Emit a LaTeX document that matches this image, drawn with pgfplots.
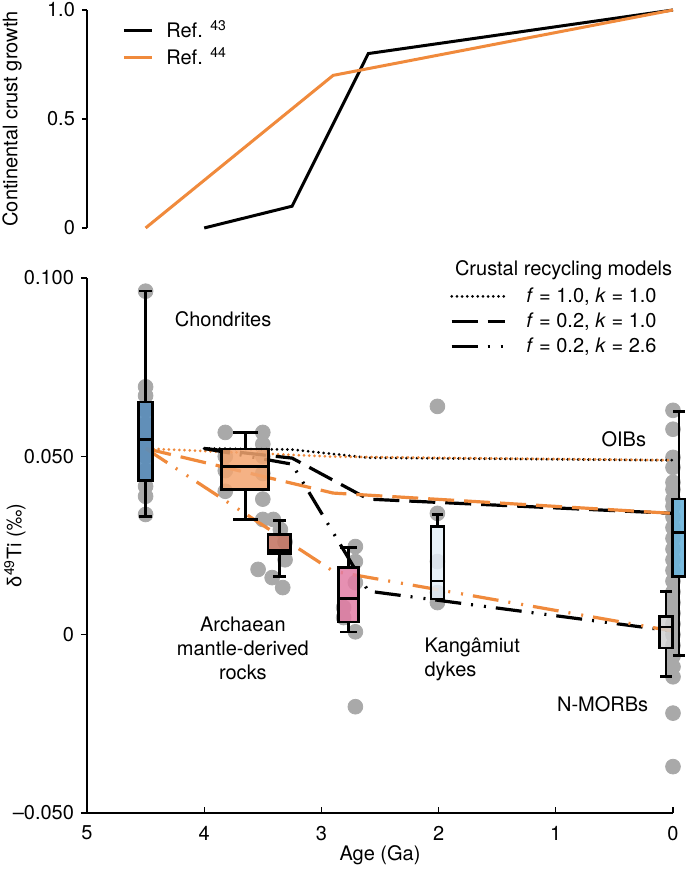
\documentclass[border=0pt]{standalone}
\usepackage{fontspec}
\setmainfont{TeX Gyre Heros}
\newfontfamily\libsans{Liberation Sans}
\usepackage{pgfplots}
\pgfplotsset{compat=1.18}

\definecolor{corange}{HTML}{F08A3C}
\definecolor{cgrey}{HTML}{A9A9A9}
\definecolor{cchon}{HTML}{5A8DBA}
\definecolor{carch}{HTML}{F3A570}
\definecolor{cbrown}{HTML}{C47866}
\definecolor{cpink}{HTML}{E27CA4}
\definecolor{ckang}{HTML}{E4EEF7}
\definecolor{cmorb}{HTML}{D0D0D0}
\definecolor{coib}{HTML}{6BB4DA}

\tikzset{boxl/.style={draw=black, line width=1.3pt, line join=miter}}

\begin{document}
\begin{tikzpicture}[font=\fontsize{10}{12}\selectfont]
\useasboundingbox (-43.5pt,-28.5pt) rectangle (299pt,406.5pt);

% ---------------- top panel ----------------
\begin{axis}[
 at={(0pt,292.5pt)}, anchor=south west,
 scale only axis, width=293pt, height=109pt,
 xmin=0, xmax=5, x dir=reverse, ymin=0, ymax=1,
 axis x line=none, axis y line=left, axis line style={-, line width=0.6pt},
 ytick={0,0.5,1}, yticklabels={0,0.5,1.0},
 tick align=outside, major tick length=2.5pt, tick style={line width=0.6pt, black},
 tick label style={font=\fontsize{10}{12}\selectfont},
 ylabel={Continental crust growth},
 ylabel style={at={(axis description cs:-0.128,0.5)}, anchor=center},
 clip=false,
 legend image code/.code={\draw[#1] (0pt,0pt) -- (14pt,0pt);},
 legend style={draw=none, fill=none, at={(axis description cs:0.0597,0.97)}, anchor=north west,
   inner sep=0pt, row sep=0pt, nodes={inner sep=0pt, minimum height=13.5pt, anchor=west},
   /tikz/every odd column/.append style={column sep=6.5pt}},
 legend cell align=left,
]
\addplot[black, line width=1.5pt] coordinates {(4.0,0) (3.25,0.1) (2.6,0.8) (0,1.0)};
\addlegendentry{Ref. \textsuperscript{43}}
\addplot[corange, line width=1.5pt] coordinates {(4.5,0) (2.9,0.7) (0,1.0)};
\addlegendentry{Ref. \textsuperscript{44}}
\end{axis}

% ---------------- bottom panel ----------------
\begin{axis}[
 at={(0pt,0pt)}, anchor=south west,
 scale only axis, width=293pt, height=267.5pt,
 xmin=0, xmax=5, x dir=reverse, ymin=-0.05, ymax=0.1,
 unbounded coords=jump,
 axis x line=bottom, axis y line=left, axis line style={-, line width=0.6pt},
 xtick={0,1,2,3,4,5}, xticklabels={0,1,2,3,4,5},
 ytick={-0.05,0,0.05,0.1}, yticklabels={\textendash0.050,0,0.050,0.100},
 tick align=outside, major tick length=3pt, tick style={line width=0.6pt, black},
 x tick style={yshift=3pt},
 tick label style={font=\fontsize{10}{12}\selectfont},
 xlabel={Age (Ga)},
 xlabel style={at={(axis description cs:0.5,-0.0785)}, anchor=center},
 ylabel={{\libsans δ}\textsuperscript{49}Ti (‰)},
 ylabel style={at={(axis description cs:-0.123,0.5)}, anchor=center},
 clip=false, clip marker paths=true,
 legend image code/.code={\draw[#1] (0pt,0pt) -- (26.5pt,0pt);},
 legend style={draw=none, fill=none, at={(axis description cs:0.619,0.9897)}, anchor=north west,
   inner sep=0pt, row sep=0pt, nodes={inner sep=0pt, minimum height=12.5pt, anchor=west},
   /tikz/every odd column/.append style={column sep=10pt}},
 legend cell align=left,
]
\addlegendimage{black, line width=1.5pt, line cap=round, dash pattern=on 0pt off 2.6pt}
\addlegendentry{\textit{f} = 1.0, \textit{k} = 1.0}
\addlegendimage{black, line width=1.6pt, dash pattern=on 13pt off 5pt}
\addlegendentry{\textit{f} = 0.2, \textit{k} = 1.0}
\addlegendimage{black, line width=1.6pt, dash pattern=on 13pt off 5pt on 1pt off 5.5pt on 1pt off 5pt}
\addlegendentry{\textit{f} = 0.2, \textit{k} = 2.6}

% grey data points
\addplot[forget plot, only marks, mark=*, mark size=3.7pt, color=cgrey] coordinates {
 (4.5,0.0963) (4.5,0.0695) (4.5,0.0670) (4.5,0.0630) (4.5,0.0590) (4.5,0.0560)
 (4.5,0.0530) (4.5,0.0500) (4.5,0.0460) (4.5,0.0440) (4.5,0.0416) (4.5,0.0388) (4.5,0.0337)
 (3.82,0.0567) (3.82,0.0500) (3.82,0.0460) (3.82,0.0402)
 (3.50,0.0567) (3.50,0.0534) (3.50,0.0500) (3.50,0.0452) (3.50,0.0380)
 (3.50,0.0323) (3.41,0.0323) (3.35,0.0295) (3.31,0.0260) (3.31,0.0210)
 (3.54,0.0183) (3.42,0.0160) (3.33,0.0132)
 (2.71,0.0247) (2.71,0.0205) (2.71,0.0146) (2.81,0.0076) (2.81,0.0048) (2.71,0.0008) (2.71,-0.0202)
 (2.01,0.0640) (2.01,0.0340) (2.01,0.0205) (2.01,0.0118) (2.01,0.0090)
 (0,0.0629) (0,0.0576) (0,0.0497) (0,0.0469) (0,0.0427) (0,0.0407) (0,0.0380) (0,0.0360)
 (0,0.0330) (0,0.0300) (0,0.0270) (0,0.0240) (0,0.0210) (0,0.0180) (0,0.0150)
 (0,0.0120) (0,0.0090) (0,0.0060) (0,0.0030) (0,0.0000) (0,-0.0030) (0,-0.0060)
 (0,-0.0090) (0,-0.0118) (0,-0.0220) (0,-0.0370)
};

% crustal recycling model lines
\addplot[forget plot, black, line width=1.5pt, line cap=round, dash pattern=on 0pt off 2.6pt]
 coordinates {(4.0,0.0522) (3.25,0.0519) (2.6,0.0496) (0,0.0489)};
\addplot[forget plot, corange, line width=1.5pt, line cap=round, dash pattern=on 0pt off 2.6pt, dash phase=1.3pt]
 coordinates {(4.5,0.0522) (2.9,0.0499) (0,0.0489)};
\addplot[forget plot, black, line width=1.6pt, dash pattern=on 13pt off 5pt]
 coordinates {(4.0,0.0522) (3.25,0.0495) (2.6,0.0380) (0,0.0340)};
\addplot[forget plot, corange, line width=1.6pt, dash pattern=on 13pt off 5pt]
 coordinates {(4.5,0.0522) (2.9,0.0397) (0,0.0340)};
\addplot[forget plot, black, line width=1.6pt, dash pattern=on 13pt off 5pt on 1pt off 5.5pt on 1pt off 5pt]
 coordinates {(4.0,0.0522) (3.25,0.0478) (2.6,0.0122) (0,0.0010)};
\addplot[forget plot, corange, line width=1.6pt, dash pattern=on 13pt off 5pt on 1pt off 5.5pt on 1pt off 5pt]
 coordinates {(4.5,0.0522) (2.9,0.0178) (0,0.0010)};

% ---- box plots: whiskers + caps, box, median ----
% Chondrites (4.5 Ga)
\addplot[forget plot, boxl] coordinates {(4.5,0.0652) (4.5,0.0963) (4.5,nan) (4.445,0.0963) (4.555,0.0963) (4.5,nan)
 (4.5,0.0433) (4.5,0.0331) (4.5,nan) (4.445,0.0331) (4.555,0.0331)};
\addplot[forget plot, boxl, fill=cchon, fill opacity=0.9] coordinates {(4.44,0.0433) (4.56,0.0433) (4.56,0.0652) (4.44,0.0652)} --cycle;
\addplot[forget plot, boxl] coordinates {(4.44,0.0548) (4.56,0.0548)};
% Archaean mantle-derived rocks (3.65 Ga)
\addplot[forget plot, boxl] coordinates {(3.65,0.0520) (3.65,0.0567) (3.65,nan) (3.545,0.0567) (3.755,0.0567) (3.65,nan)
 (3.65,0.0407) (3.65,0.0323) (3.65,nan) (3.545,0.0323) (3.755,0.0323)};
\addplot[forget plot, boxl, fill=carch, fill opacity=0.85] coordinates {(3.45,0.0407) (3.85,0.0407) (3.85,0.0520) (3.45,0.0520)} --cycle;
\addplot[forget plot, boxl] coordinates {(3.45,0.0472) (3.85,0.0472)};
% Archaean (3.36 Ga)
\addplot[forget plot, boxl] coordinates {(3.36,0.0281) (3.36,0.0320) (3.36,nan) (3.305,0.0320) (3.415,0.0320) (3.36,nan)
 (3.36,0.0228) (3.36,0.0163) (3.36,nan) (3.305,0.0163) (3.415,0.0163)};
\addplot[forget plot, boxl, fill=cbrown, fill opacity=0.9] coordinates {(3.265,0.0228) (3.455,0.0228) (3.455,0.0281) (3.265,0.0281)} --cycle;
\addplot[forget plot, boxl] coordinates {(3.265,0.0236) (3.455,0.0236)};
% Archaean (2.77 Ga)
\addplot[forget plot, boxl] coordinates {(2.77,0.0188) (2.77,0.0244) (2.77,nan) (2.70,0.0244) (2.84,0.0244) (2.77,nan)
 (2.77,0.0036) (2.77,0.0008) (2.77,nan) (2.70,0.0008) (2.84,0.0008)};
\addplot[forget plot, boxl, fill=cpink, fill opacity=0.85] coordinates {(2.685,0.0036) (2.855,0.0036) (2.855,0.0188) (2.685,0.0188)} --cycle;
\addplot[forget plot, boxl] coordinates {(2.685,0.0102) (2.855,0.0102)};
% Kangamiut dykes (2.01 Ga)
\addplot[forget plot, boxl] coordinates {(2.01,0.0303) (2.01,0.0337) (2.01,nan) (1.96,0.0337) (2.06,0.0337)};
\addplot[forget plot, boxl, fill=ckang, fill opacity=0.85] coordinates {(1.955,0.0100) (2.065,0.0100) (2.065,0.0303) (1.955,0.0303)} --cycle;
\addplot[forget plot, boxl] coordinates {(1.955,0.0150) (2.065,0.0150)};
% N-MORBs
\addplot[forget plot, boxl] coordinates {(0.06,0.0051) (0.06,0.0121) (0.06,nan) (0.01,0.0121) (0.11,0.0121) (0.06,nan)
 (0.06,-0.0037) (0.06,-0.0118) (0.06,nan) (0.01,-0.0118) (0.11,-0.0118)};
\addplot[forget plot, boxl, fill=cmorb, fill opacity=0.85] coordinates {(0.005,-0.0037) (0.115,-0.0037) (0.115,0.0051) (0.005,0.0051)} --cycle;
\addplot[forget plot, boxl] coordinates {(0.005,0.0022) (0.115,0.0022)};
% OIBs
\addplot[forget plot, boxl] coordinates {(-0.05,0.0380) (-0.05,0.0626) (-0.05,nan) (-0.10,0.0626) (0.0,0.0626) (-0.05,nan)
 (-0.05,0.0163) (-0.05,-0.0059) (-0.05,nan) (-0.10,-0.0059) (0.0,-0.0059)};
\addplot[forget plot, boxl, fill=coib, fill opacity=0.9] coordinates {(-0.105,0.0163) (0.005,0.0163) (0.005,0.0380) (-0.105,0.0380)} --cycle;
\addplot[forget plot, boxl] coordinates {(-0.105,0.0287) (0.005,0.0287)};

% labels
\node[anchor=west] at (axis description cs:0.616,1.015) {Crustal recycling models};
\node[anchor=west] at (axis cs:4.31,0.0885) {Chondrites};
\node at (axis cs:0.42,0.0548) {OIBs};
\node[align=center] at (axis cs:3.67,-0.0039) {Archaean\\mantle-derived\\rocks};
\node[align=left, anchor=west] at (axis cs:2.18,-0.007) {Kangâmiut\\dykes};
\node at (axis cs:0.6,-0.0194) {N-MORBs};
\end{axis}
\end{tikzpicture}
\end{document}
